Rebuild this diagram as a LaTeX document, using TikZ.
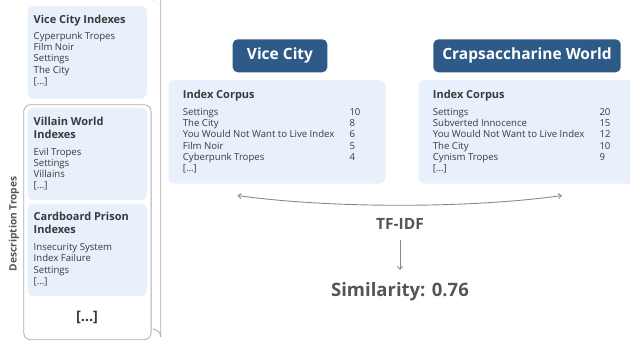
\documentclass[tikz,border=0pt]{standalone}
\usepackage{fontspec}
\setmainfont{Open Sans}
\usetikzlibrary{arrows.meta}
\definecolor{lightbox}{HTML}{E8F0FC}
\definecolor{darkbox}{HTML}{2E5A87}
\definecolor{txt}{HTML}{3A3A3A}
\definecolor{graytxt}{HTML}{555555}
\definecolor{lineg}{HTML}{8A8A8A}
\tikzset{
  lbox/.style={fill=lightbox, draw=none, rounded corners=6pt, anchor=north west, inner sep=0pt},
  hbox/.style={fill=darkbox, draw=none, rounded corners=5pt, text=white,
    font=\fontsize{15.5}{17}\selectfont\bfseries, inner sep=0pt},
  sbtext/.style={anchor=base west, inner sep=0pt, text=txt,
    font=\fontsize{9.6}{11.2}\selectfont},
  cptext/.style={anchor=base west, inner sep=0pt, text=txt,
    font=\fontsize{9.6}{11.1}\selectfont},
  conn/.style={draw=lineg, line width=0.9pt},
}
\newcommand{\ttl}[1]{{\fontsize{11}{13}\selectfont\bfseries #1}}
\begin{document}
\begin{tikzpicture}[x=1pt,y=-1pt]
\useasboundingbox (0,0) rectangle (630,349);
\clip (0,0) rectangle (630,349);
% sidebar
\node[lbox, minimum width=119.5pt, minimum height=92.3pt] (vcb) at (27.3,6) {};
\node[draw=lineg!70, line width=0.8pt, rounded corners=7pt, minimum width=127.4pt, minimum height=235pt, anchor=north west] (grp) at (23.3,104.3) {};
\node[lbox, minimum width=119.5pt, minimum height=92.7pt] (vwb) at (27.3,107.3) {};
\node[lbox, minimum width=119.5pt, minimum height=92.7pt] (cpb) at (27.3,203.3) {};
\node[sbtext] (vct) at (33.5,23) {\begin{tabular}[t]{@{}l@{}}\ttl{Vice City Indexes}\\[5.2pt] Cyperpunk Tropes\\ Film Noir\\ Settings\\ The City\\ {[\dots]}\end{tabular}};
\node[sbtext] (vwt) at (33.5,125.6) {\begin{tabular}[t]{@{}l@{}}\ttl{Villain World}\\[1.4pt] \ttl{Indexes}\\[5.4pt] Evil Tropes\\ Settings\\ Villains\\ {[\dots]}\end{tabular}};
\node[sbtext] (cpt) at (33.5,220.6) {\begin{tabular}[t]{@{}l@{}}\ttl{Cardboard Prison}\\[1.6pt] \ttl{Indexes}\\[5.6pt] Insecurity System\\ Index Failure\\ Settings\\ {[\dots]}\end{tabular}};
\node[text=txt, font=\fontsize{14.5}{16}\selectfont\bfseries] (more) at (87,317.3) {[\dots]};
\draw[lineg!70, line width=0.8pt] (152.7,0) arc[start angle=90, end angle=0, radius=8] -- (160.7,337) arc[start angle=0, end angle=-90, radius=8];
\node[rotate=90, text=graytxt, font=\fontsize{10.2}{12}\selectfont\bfseries] (desc) at (14,224) {Description Tropes};
% headers
\node[hbox, minimum width=94.6pt, minimum height=33pt] (vc) at (280,55.8) {Vice City};
\node[hbox, minimum width=187.4pt, minimum height=33pt] (cw) at (527,55.8) {Crapsaccharine World};
% corpus boxes
\node[lbox, minimum width=217pt, minimum height=103.3pt] (lc) at (168.3,80) {};
\node[lbox, minimum width=230pt, minimum height=103.3pt] (rc) at (418.3,80) {};
\node[cptext] (lct) at (182.7,98.9) {%
\begin{tabular}[t]{@{}p{166.6pt}@{}l@{}}
\multicolumn{2}{@{}l@{}}{\ttl{Index Corpus}}\\[5.7pt]
Settings & 10\\ The City & 8\\ You Would Not Want to Live Index & 6\\ Film Noir & 5\\ Cyberpunk Tropes & 4\\ {[\dots]} &
\end{tabular}};
\node[cptext] (rct) at (432.7,98.9) {%
\begin{tabular}[t]{@{}p{166.6pt}@{}l@{}}
\multicolumn{2}{@{}l@{}}{\ttl{Index Corpus}}\\[5.7pt]
Settings & 20\\ Subverted Innocence & 15\\ You Would Not Want to Live Index & 12\\ The City & 10\\ Cynism Tropes & 9\\ {[\dots]} &
\end{tabular}};
% tf-idf
\coordinate (al) at (237.5,195.5);
\coordinate (ar) at (562,195.5);
\draw[conn, {Straight Barb[length=3pt,width=5pt]}-{Straight Barb[length=3pt,width=5pt]}] (al) .. controls (330,208.5) and (470,208.5) .. (ar);
\node[text=graytxt, font=\fontsize{15.5}{17}\selectfont\bfseries] (tf) at (400,223.5) {TF-IDF};
\node[text=graytxt, font=\fontsize{18.5}{20}\selectfont\bfseries] (sim) at (400,292) {Similarity: 0.76};
\coordinate (dtop) at (400,240);
\draw[conn, -{Straight Barb[length=3pt,width=5pt]}] (dtop) -- (sim.north |- 0,270);
\end{tikzpicture}
\end{document}
